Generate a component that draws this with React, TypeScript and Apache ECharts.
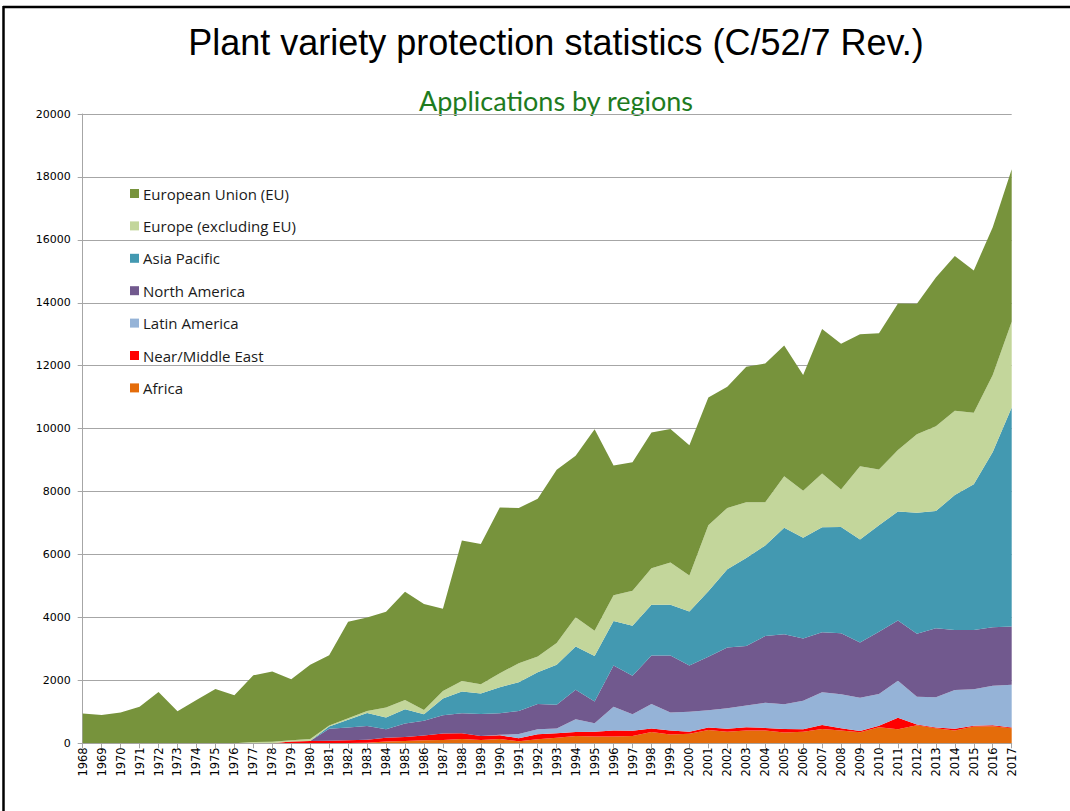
import React, { useEffect, useRef } from "react";
import * as echarts from "echarts";

const years = [
  "1968","1969","1970","1971","1972","1973","1974","1975","1976","1977",
  "1978","1979","1980","1981","1982","1983","1984","1985","1986","1987",
  "1988","1989","1990","1991","1992","1993","1994","1995","1996","1997",
  "1998","1999","2000","2001","2002","2003","2004","2005","2006","2007",
  "2008","2009","2010","2011","2012","2013","2014","2015","2016","2017",
];

const africa = [
  0,0,0,0,0,0,0,0,0,0,0,0,0,0,
  10,20,60,75,100,105,140,105,140,65,125,180,235,220,215,235,
  360,280,300,425,370,405,405,340,370,455,405,350,510,450,570,475,405,530,540,475,
];
const nearEast = [
  0,0,0,0,0,0,0,0,0,0,0,
  60,70,80,85,90,120,125,150,210,180,125,115,95,160,140,125,150,190,160,
  110,125,70,75,95,105,85,115,75,125,75,40,50,360,30,30,60,30,30,30,
];
const latinAmerica = [
  0,0,0,0,0,0,0,0,0,0,0,0,0,0,0,0,0,0,0,0,0,0,
  15,135,160,150,405,265,760,530,780,570,630,550,645,690,795,785,910,1040,
  1080,1060,1010,1180,880,955,1230,1155,1260,1355,
];
const northAmerica = [
  0,0,0,0,0,0,0,0,0,0,0,0,0,
  380,405,440,265,430,470,580,635,700,685,735,805,755,935,690,1305,1220,
  1540,1815,1470,1700,1935,1895,2125,2225,1975,1910,1940,1755,1975,1910,2005,2195,1905,1885,1860,1850,
];
const asiaPacific = [
  0,0,0,0,0,0,0,0,0,0,0,0,0,
  70,250,415,375,450,200,530,690,655,825,910,1010,1270,1380,1450,1420,1590,
  1610,1610,1715,2080,2490,2795,2875,3385,3205,3340,3375,3270,3385,3465,3840,3725,4295,4635,5570,6965,
];
const europeNonEU = [
  0,0,0,0,0,0,0,0,0,
  40,50,40,70,35,45,65,320,300,140,235,335,295,445,605,495,690,930,805,815,1115,
  1165,1345,1145,2100,1945,1770,1375,1635,1490,1705,1195,2330,1775,1955,2500,2695,2670,2270,2445,2720,
];
const europeanUnion = [
  950,900,980,1160,1630,1015,1375,1725,1525,2120,
  2230,1935,2360,2235,3070,2965,3040,3440,3370,2615,
  4465,4455,5270,4930,5015,5510,5130,6400,4125,4080,
  4315,4240,4145,4060,3855,4305,4410,4160,3680,4590,
  4625,4195,4330,4660,4145,4725,4920,4525,4695,4850,
];

const seriesNames = [
  "Africa",
  "Near/Middle East",
  "Latin America",
  "North America",
  "Asia Pacific",
  "Europe (excluding EU)",
  "European Union (EU)",
];
const seriesColors = ["#e46c0a", "#ff0000", "#95b3d7", "#71598e", "#4399b1", "#c3d69b", "#77933c"];
const seriesData = [africa, nearEast, latinAmerica, northAmerica, asiaPacific, europeNonEU, europeanUnion];

const yTicks = { min: 0, max: 20000, interval: 2000 };

export default function App() {
  const ref = useRef<HTMLDivElement>(null);

  useEffect(() => {
    if (!ref.current) return;
    const chart = echarts.init(ref.current, undefined, { renderer: "svg" });
    const option: any = {
      animation: false,
      backgroundColor: "#ffffff",
      graphic: [
        {
          type: "line",
          shape: { x1: 3.5, y1: 6, x2: 3.5, y2: 811 },
          style: { stroke: "#000000", lineWidth: 2.5 },
        },
        {
          type: "line",
          shape: { x1: 3, y1: 7, x2: 1070, y2: 7 },
          style: { stroke: "#000000", lineWidth: 2.5 },
        },
        {
          type: "text",
          x: 556,
          y: 42,
          style: {
            text: "Plant variety protection statistics (C/52/7 Rev.)",
            font: '36px "Liberation Sans", Arial, sans-serif',
            fill: "#000000",
            textAlign: "center",
            textVerticalAlign: "middle",
            align: "center",
            verticalAlign: "middle",
          },
        },
        {
          type: "text",
          x: 556,
          y: 100,
          style: {
            text: "Applications by regions",
            font: "27px Lato, sans-serif",
            fill: "#1e7b1e",
            textAlign: "center",
            textVerticalAlign: "middle",
            align: "center",
            verticalAlign: "middle",
          },
        },
      ],
      legend: {
        orient: "vertical",
        left: 130,
        top: 186,
        padding: 0,
        itemWidth: 9,
        itemHeight: 9,
        itemGap: 17.4,
        icon: "rect",
        data: seriesNames.slice().reverse(),
        textStyle: {
          fontFamily: '"Open Sans", sans-serif',
          fontSize: 15,
          lineHeight: 14,
          color: "#1a1a1a",
          padding: [0, 0, 0, -1],
        },
      },
      grid: { left: 82.7, right: 58.3, top: 114, bottom: 67.7 },
      xAxis: {
        type: "category",
        data: years,
        boundaryGap: false,
        axisLine: { lineStyle: { color: "#a6a6a6", width: 1 } },
        axisTick: { show: true, interval: 0, length: 5, lineStyle: { color: "#a6a6a6" } },
        axisLabel: {
          interval: 0,
          rotate: 90,
          margin: 4,
          fontFamily: '"DejaVu Sans", sans-serif',
          fontSize: 11.5,
          color: "#000000",
        },
      },
      yAxis: {
        type: "value",
        min: yTicks.min,
        max: yTicks.max,
        interval: yTicks.interval,
        axisLine: { show: true, lineStyle: { color: "#a6a6a6", width: 1 } },
        axisTick: { show: true, length: 5, lineStyle: { color: "#a6a6a6" } },
        splitLine: { show: true, lineStyle: { color: "#a6a6a6", width: 1 } },
        axisLabel: {
          margin: 12,
          fontFamily: '"DejaVu Sans", sans-serif',
          fontSize: 11,
          color: "#000000",
          formatter: (v: number) => String(v),
        },
      },
      series: seriesNames.map((name, i) => ({
        name,
        type: "line",
        stack: "total",
        data: seriesData[i],
        symbol: "none",
        showSymbol: false,
        lineStyle: { width: 0 },
        itemStyle: { color: seriesColors[i] },
        areaStyle: { color: seriesColors[i], opacity: 1 },
        emphasis: { disabled: true },
      })),
    };
    chart.setOption(option);
    return () => chart.dispose();
  }, []);

  return (
    <div
      ref={ref}
      style={{ position: "fixed", left: 0, top: 0, width: 1070, height: 811, background: "#fff" }}
    />
  );
}
